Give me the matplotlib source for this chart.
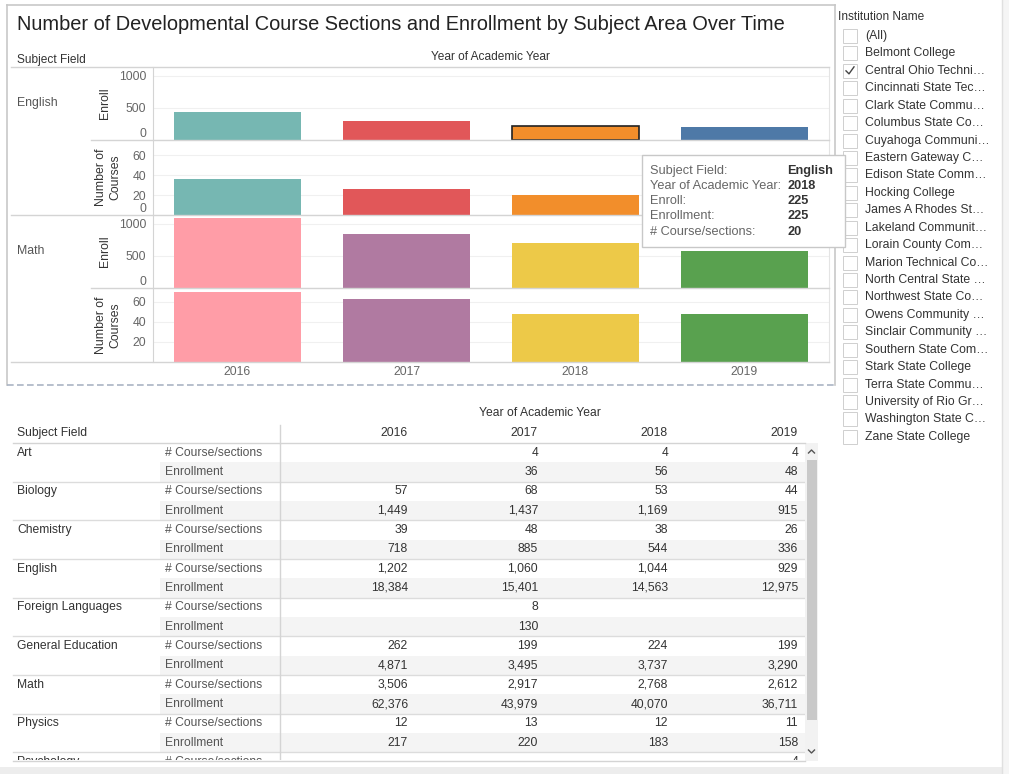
import numpy as np
import matplotlib.pyplot as plt
from matplotlib.lines import Line2D
from matplotlib.patches import Rectangle

plt.rcParams['font.family'] = ['Liberation Sans', 'DejaVu Sans']

W, H = 1009, 774

# ---- chart data ----
years = ['2016', '2017', '2018', '2019']
eng_enroll = [435, 295, 225, 207]
eng_courses = [36, 26, 20, 19]
math_enroll = [1094, 844, 703, 578]
math_courses = [70, 63, 48, 48]
eng_colors = ['#76B7B2', '#E15759', '#F28E2B', '#4E79A7']
math_colors = ['#FF9DA7', '#B07AA1', '#EDC948', '#59A14F']

# ---- table data ----
subjects = ['Art', 'Biology', 'Chemistry', 'English', 'Foreign Languages',
            'General Education', 'Math', 'Physics', 'Psychology']
tbl_courses = [
    [None, 4, 4, 4],
    [57, 68, 53, 44],
    [39, 48, 38, 26],
    [1202, 1060, 1044, 929],
    [None, 8, None, None],
    [262, 199, 224, 199],
    [3506, 2917, 2768, 2612],
    [12, 13, 12, 11],
    [None, None, None, 4],
]
tbl_enroll = [
    [None, 36, 56, 48],
    [1449, 1437, 1169, 915],
    [718, 885, 544, 336],
    [18384, 15401, 14563, 12975],
    [None, 130, None, None],
    [4871, 3495, 3737, 3290],
    [62376, 43979, 40070, 36711],
    [217, 220, 183, 158],
    [None, None, None, None],
]

institutions = ['(All)', 'Belmont College', 'Central Ohio Techni…', 'Cincinnati State Tec…',
                'Clark State Commu…', 'Columbus State Co…', 'Cuyahoga Communi…',
                'Eastern Gateway C…', 'Edison State Comm…', 'Hocking College',
                'James A Rhodes St…', 'Lakeland Communit…', 'Lorain County Com…',
                'Marion Technical Co…', 'North Central State …', 'Northwest State Co…',
                'Owens Community …', 'Sinclair Community …', 'Southern State Com…',
                'Stark State College', 'Terra State Commu…', 'University of Rio Gr…',
                'Washington State C…', 'Zane State College']
checked = 'Central Ohio Techni…'

GRID = '#d4d4d4'
TXT = '#333333'
TICK = '#666666'
FS = 8.8


def fx(x):
    return x / W


def fy(y):
    return 1 - y / H


def px_axes(x0, y0, x1, y1, **kw):
    return fig.add_axes([fx(x0), fy(y1), (x1 - x0) / W, (y1 - y0) / H], **kw)


def fline(x0, y0, x1, y1, **kw):
    fig.add_artist(Line2D([fx(x0), fx(x1)], [fy(y0), fy(y1)], **kw))


def ftext(x, y, s, **kw):
    kw.setdefault('color', TXT)
    kw.setdefault('fontsize', FS)
    kw.setdefault('va', 'center')
    fig.text(fx(x), fy(y), s, **kw)


fig = plt.figure(figsize=(W / 100, H / 100), dpi=100)
fig.patch.set_facecolor('white')

# ---- outer frame of the chart ----
fline(7, 5, 835, 5, color='#c8c8c8', lw=1.2)
fline(7, 5, 7, 385, color='#c8c8c8', lw=1.2)
fline(835, 5, 835, 385, color='#c8c8c8', lw=1.2)
fline(7, 385, 835, 385, color='#aab4c4', lw=1.2, ls=(0, (4, 2)))

ftext(17, 25, 'Number of Developmental Course Sections and Enrollment by Subject Area Over Time',
      fontsize=14.4, color='#222222')
ftext(17, 60, 'Subject Field', fontsize=8.6)
ftext(490, 57, 'Year of Academic Year', fontsize=8.6, ha='center')

panels = [
    (67, 140, eng_enroll, eng_colors, 1140, [0, 500, 1000], 'Enroll'),
    (140, 215, eng_courses, eng_colors, 75, [0, 20, 40, 60], 'Number of\nCourses'),
    (215, 288, math_enroll, math_colors, 1140, [0, 500, 1000], 'Enroll'),
    (288, 362, math_courses, math_colors, 74, [20, 40, 60], 'Number of\nCourses'),
]
xpos = np.arange(len(years))
for i, (y0, y1, vals, cols, top, ticks, lab) in enumerate(panels):
    ax = px_axes(153, y0, 829, y1)
    ax.set_xlim(-0.5, len(years) - 0.5)
    ax.set_ylim(0, top)
    for t in ticks:
        ax.axhline(t, color='#f0f0f0', lw=0.8, zorder=0)
    bars = ax.bar(xpos, vals, width=0.75, color=cols, zorder=2)
    if i == 0:
        bars[2].set_edgecolor('#222222')
        bars[2].set_linewidth(1.2)
    ax.set_yticks(ticks)
    ax.set_yticklabels([str(t) for t in ticks])
    ax.tick_params(axis='y', length=0, pad=5, labelsize=FS, labelcolor=TICK)
    if ticks[0] == 0:
        ax.get_yticklabels()[0].set_verticalalignment('bottom')
    for s in ['top', 'bottom']:
        ax.spines[s].set_visible(False)
    ax.spines['left'].set_color(GRID)
    ax.spines['right'].set_color('#e4e4e4')
    if i == len(panels) - 1:
        ax.set_xticks(xpos)
        ax.set_xticklabels(years)
        ax.tick_params(axis='x', length=0, pad=3, labelsize=FS, labelcolor=TICK)
    else:
        ax.set_xticks([])
    ax.patch.set_alpha(0)
    yc = (y0 + y1) / 2
    ftext(108 if '\n' in lab else 105, yc, lab, rotation=90, ha='center',
          fontsize=FS, multialignment='center')
    left = 11 if i % 2 == 1 else 91
    fline(left, y1, 829, y1, color=GRID, lw=1)

fline(11, 67, 829, 67, color=GRID, lw=1)
ftext(17, 103, 'English', fontsize=FS, color='#555555')
ftext(17, 251, 'Math', fontsize=FS, color='#555555')

# ---- tooltip ----
tip = px_axes(642, 155, 845, 247, zorder=10)
tip.set_xlim(642, 845)
tip.set_ylim(247, 155)
tip.axis('off')
tip.add_patch(Rectangle((642, 155), 203, 92, facecolor='white', edgecolor='#c8c8c8',
                        lw=1, transform=tip.transData, clip_on=False))
tip_labels = ['Subject Field:', 'Year of Academic Year:', 'Enroll:', 'Enrollment:',
              '# Course/sections:']
tip_values = ['English', years[2], str(eng_enroll[2]), str(eng_enroll[2]), str(eng_courses[2])]
for k, (a, b) in enumerate(zip(tip_labels, tip_values)):
    yy = 170.5 + k * 15.3
    tip.text(650, yy, a, fontsize=9.2, color='#666666', va='center')
    tip.text(787, yy, b, fontsize=9.2, color='#333333', va='center', fontweight='bold')

# ---- table ----
TFS = 8.7
ftext(540, 413, 'Year of Academic Year', fontsize=TFS, ha='center')
ftext(17, 433, 'Subject Field', fontsize=TFS)
col_x = [408, 538, 668, 798]
for x, yr in zip(col_x, years):
    ftext(x, 433, yr, fontsize=TFS, ha='right')
fline(280, 425, 280, 443, color=GRID, lw=1)
fline(13, 443, 805, 443, color=GRID, lw=1)

tb_bottom = 760
tb = px_axes(0, 443, 805, tb_bottom)
tb.set_xlim(0, 805)
tb.set_ylim(tb_bottom, 443)
tb.axis('off')
step = 19.35
y_first = 452.5
for s_i, subj in enumerate(subjects):
    yc = y_first + 2 * s_i * step
    yc2 = yc + step
    if yc2 - step / 2 < tb_bottom:
        tb.add_patch(Rectangle((160, yc2 - step / 2), 645, step, facecolor='#f4f4f4',
                               edgecolor='none', zorder=0))
    if s_i > 0:
        tb.plot([13, 805], [yc - step / 2, yc - step / 2], color='#dcdcdc', lw=1, zorder=1)
    tb.text(17, yc, subj, fontsize=TFS, color=TXT, va='center', clip_on=True)
    tb.text(165, yc, '# Course/sections', fontsize=TFS, color='#555555', va='center',
            clip_on=True)
    show2 = yc2 < tb_bottom
    if show2:
        tb.text(165, yc2, 'Enrollment', fontsize=TFS, color='#555555', va='center',
                clip_on=True)
    for j, x in enumerate(col_x):
        v1 = tbl_courses[s_i][j]
        v2 = tbl_enroll[s_i][j]
        if v1 is not None:
            tb.text(x, yc, f'{v1:,}', fontsize=TFS, color=TXT, va='center', ha='right',
                    clip_on=True)
        if v2 is not None and show2:
            tb.text(x, yc2, f'{v2:,}', fontsize=TFS, color=TXT, va='center', ha='right',
                    clip_on=True)
tb.plot([280, 280], [443, tb_bottom], color=GRID, lw=1, zorder=3)
fline(13, tb_bottom + 1, 805, tb_bottom + 1, color=GRID, lw=1)

# scrollbar
fig.add_artist(Rectangle((fx(805), fy(761)), 13 / W, 318 / H, transform=fig.transFigure,
                         facecolor='#f2f2f2', edgecolor='none'))
fig.add_artist(Rectangle((fx(807), fy(720)), 10 / W, 260 / H, transform=fig.transFigure,
                         facecolor='#c9c9c9', edgecolor='none'))
fig.add_artist(Line2D([fx(808.5), fx(811.5), fx(814.5)], [fy(453), fy(450), fy(453)],
                      color='#555555', lw=1))
fig.add_artist(Line2D([fx(808.5), fx(811.5), fx(814.5)], [fy(750), fy(753), fy(750)],
                      color='#555555', lw=1))

# bottom band
fig.add_artist(Rectangle((0, 0), 1, 7 / H, transform=fig.transFigure,
                         facecolor='#ededed', edgecolor='none'))

# ---- filter panel ----
fig.add_artist(Rectangle((fx(1002), 0), 7 / W, 1, transform=fig.transFigure,
                         facecolor='#f5f5f5', edgecolor='none'))
fline(1002, 0, 1002, 774, color='#e0e0e0', lw=1)
ftext(838, 17, 'Institution Name', fontsize=8.6, color=TXT)
for k, name in enumerate(institutions):
    yy = 36 + k * 17.43
    fig.add_artist(Rectangle((fx(843), fy(yy + 7)), 14 / W, 14 / H, transform=fig.transFigure,
                             facecolor='white', edgecolor='#cfcfcf', lw=0.7))
    if name == checked:
        fig.add_artist(Line2D([fx(846), fx(849), fx(854)], [fy(yy), fy(yy + 3), fy(yy - 4)],
                              color='#444444', lw=1))
    ftext(865, yy, name, fontsize=8.8, color=TXT)

fig.savefig('out.png', dpi=100)
